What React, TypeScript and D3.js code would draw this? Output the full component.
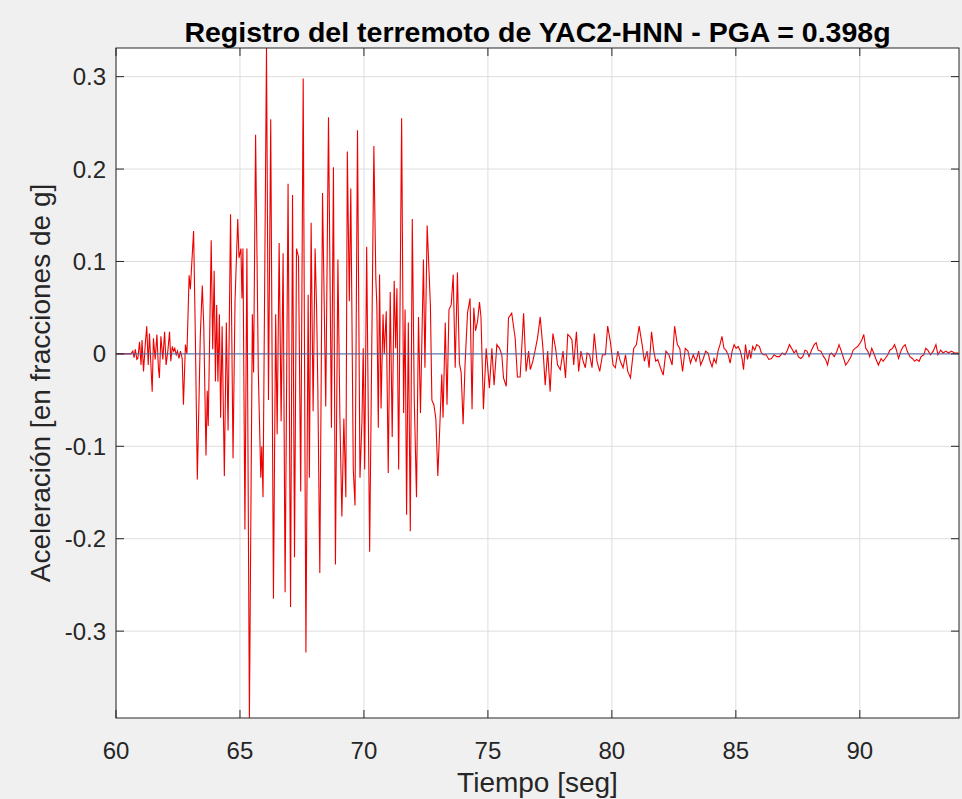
import * as d3 from 'd3';

// Registro del terremoto YAC2-HNN, puntos [tiempo (s), aceleración (g)]
const preEvento: [number, number][] = [
  [60.0, 0], [60.6, 0], [60.68, 0.003], [60.73, -0.004], [60.78, 0.005], [60.84, -0.006],
  [60.88, -0.005], [60.95, 0.013], [61.01, -0.012], [61.05, 0.015], [61.11, -0.019],
  [61.18, 0.01], [61.24, 0.03], [61.3, -0.012], [61.35, 0.022], [61.42, -0.019],
  [61.46, -0.041], [61.51, 0.017], [61.58, -0.006], [61.65, 0.021], [61.71, -0.015],
  [61.75, -0.026], [61.81, 0.019], [61.89, -0.006], [61.96, 0.024], [62.02, -0.012],
  [62.09, 0.003], [62.16, 0.024], [62.21, -0.008], [62.27, 0.008], [62.32, 0.003],
  [62.37, 0.006], [62.43, -0.001], [62.48, 0.003], [62.54, -0.005], [62.6, 0.003],
  [62.67, -0.005], [62.72, -0.055],
];

const faseIntensa: [number, number][] = [
  [62.8, 0.01], [62.86, 0.0], [62.95, 0.085], [63.0, 0.07], [63.05, 0.095], [63.13, 0.133],
  [63.2, 0.02], [63.28, -0.136], [63.34, -0.06], [63.4, 0.02], [63.48, 0.074], [63.54, 0.03],
  [63.63, -0.11], [63.68, -0.04], [63.72, -0.078], [63.84, 0.123], [63.9, 0.005], [63.96, 0.09],
  [64.01, -0.03], [64.06, 0.053], [64.11, -0.03], [64.17, 0.043], [64.22, -0.069], [64.28, 0.03],
  [64.37, -0.132], [64.45, 0.034], [64.52, -0.083], [64.62, 0.151], [64.72, -0.113], [64.8, 0.057],
  [64.91, 0.146], [64.96, 0.104], [65.04, 0.114], [65.08, 0.06], [65.12, 0.114], [65.2, -0.19],
  [65.28, 0.114], [65.38, -0.394], [65.5, 0.043], [65.55, -0.02], [65.63, 0.237], [65.74, -0.02],
  [65.84, -0.134], [65.88, -0.1], [65.93, -0.155], [66.07, 0.331], [66.15, -0.05], [66.24, 0.254],
  [66.35, -0.265], [66.44, 0.043], [66.5, -0.087], [66.58, 0.12], [66.66, -0.073], [66.74, 0.109],
  [66.82, -0.258], [66.94, 0.184], [67.04, -0.274], [67.12, 0.172], [67.2, -0.22], [67.28, 0.114],
  [67.36, 0.105], [67.45, -0.149], [67.55, 0.298], [67.66, -0.323], [67.75, 0.064], [67.8, -0.134],
  [67.87, 0.142], [67.95, -0.062], [68.03, 0.114], [68.09, 0.05], [68.14, -0.036], [68.22, -0.237],
  [68.33, 0.174], [68.46, -0.057], [68.57, 0.256], [68.69, -0.08], [68.77, 0.202], [68.85, -0.228],
  [68.95, 0.102], [69.03, -0.07], [69.11, -0.176], [69.19, -0.07], [69.27, -0.155], [69.33, 0.219],
  [69.41, 0.057], [69.47, 0.179], [69.57, -0.125], [69.64, -0.164], [69.74, 0.242], [69.84, -0.134],
  [69.92, -0.073], [69.97, 0.006], [70.03, -0.125], [70.11, 0.116], [70.23, -0.214], [70.4, 0.225],
  [70.48, 0.081], [70.52, 0.053], [70.58, -0.08], [70.63, 0.086], [70.69, -0.059], [70.77, 0.043],
  [70.82, 0.0], [70.9, 0.046], [70.98, -0.129], [71.06, 0.067], [71.14, -0.09], [71.22, 0.079],
  [71.28, 0.006], [71.33, 0.071], [71.4, -0.125], [71.52, 0.255], [71.6, -0.064], [71.66, 0.048],
  [71.72, -0.174], [71.79, 0.034], [71.87, -0.192], [71.95, 0.146], [72.03, -0.05], [72.12, -0.155],
  [72.2, 0.04], [72.28, -0.064], [72.4, 0.102], [72.46, -0.015], [72.55, 0.139], [72.63, 0.086],
  [72.68, 0.053], [72.74, -0.05], [72.82, -0.055], [72.9, -0.07], [72.98, -0.132], [73.06, -0.078],
  [73.14, -0.022], [73.19, -0.069], [73.28, 0.034], [73.35, -0.055], [73.43, 0.048], [73.52, 0.053],
  [73.6, 0.086], [73.68, -0.015], [73.77, 0.088], [73.85, -0.01], [73.92, -0.02], [74.0, -0.076],
  [74.08, -0.01], [74.18, 0.045],
];

const codaTemprana: [number, number][] = [
  [74.28, 0.06], [74.36, -0.06], [74.43, 0.05], [74.5, 0.025], [74.58, 0.035], [74.66, 0.056],
  [74.72, 0.04], [74.82, -0.06], [74.93, 0.006], [75.06, -0.037], [75.16, 0.006], [75.25, -0.034],
  [75.36, 0.01], [75.47, 0.006], [75.56, -0.001], [75.63, -0.026], [75.74, -0.035], [75.83, 0.039],
  [75.96, 0.044], [76.1, 0.017], [76.19, -0.025], [76.3, -0.025], [76.44, 0.044], [76.54, -0.019],
  [76.64, 0.003], [76.71, -0.017], [76.81, -0.008], [76.92, 0.006], [77.0, 0.017], [77.11, 0.04],
  [77.22, 0.006], [77.31, -0.034], [77.41, 0.003], [77.51, -0.041], [77.62, 0.022], [77.73, 0.006],
  [77.81, -0.012], [77.92, -0.017], [78.03, 0.003], [78.13, -0.026], [78.22, 0.021], [78.3, 0.019],
  [78.39, 0.015], [78.46, -0.012], [78.57, 0.024], [78.66, -0.019], [78.75, 0.003], [78.84, -0.008],
  [78.93, -0.015], [79.0, 0.001], [79.1, -0.001], [79.2, -0.015], [79.29, 0.022], [79.4, -0.008],
  [79.51, -0.019], [79.62, -0.001], [79.74, -0.001], [79.83, 0.03], [79.94, 0.013], [80.05, -0.012],
  [80.14, -0.015], [80.24, 0.003], [80.34, -0.008], [80.45, -0.015], [80.55, -0.001], [80.64, -0.019],
  [80.75, -0.026], [80.88, 0.006], [80.99, 0.01], [81.1, 0.03], [81.22, 0.01], [81.31, -0.008],
  [81.42, 0.003], [81.5, -0.015], [81.6, 0.024], [81.69, 0.003], [81.77, -0.008], [81.85, -0.006],
  [81.96, -0.015], [82.07, -0.023], [82.18, 0.003], [82.3, -0.001], [82.43, -0.012], [82.53, 0.03],
  [82.64, 0.01], [82.74, 0.006], [82.85, -0.019], [82.96, 0.006], [83.07, 0.003], [83.17, -0.01],
  [83.28, -0.001], [83.39, -0.008], [83.5, 0.003],
];

const codaTardia: [number, number][] = [
  [83.58, -0.012], [83.69, -0.005], [83.78, 0.003], [83.88, 0.001], [83.96, -0.008], [84.04, -0.014],
  [84.12, -0.005], [84.2, -0.01], [84.28, 0.003], [84.36, 0.01], [84.44, 0.019], [84.52, 0.006],
  [84.6, 0.004], [84.69, -0.001], [84.77, -0.01], [84.85, 0.003], [84.93, 0.01], [85.01, 0.006],
  [85.09, 0.008], [85.17, 0.004], [85.25, -0.005], [85.31, -0.017], [85.39, 0.01], [85.47, -0.006],
  [85.55, 0.004], [85.6, -0.005], [85.68, 0.008], [85.76, 0.004], [85.84, 0.01], [85.95, 0.008],
  [86.03, 0.001], [86.11, -0.001], [86.22, -0.001], [86.33, -0.006], [86.44, -0.005], [86.54, -0.001],
  [86.65, -0.003], [86.76, -0.003], [86.87, 0.001], [86.98, -0.001], [87.08, 0.004], [87.16, 0.01],
  [87.25, 0.006], [87.35, 0.001], [87.43, 0.004], [87.52, -0.003], [87.62, -0.005], [87.7, -0.003],
  [87.79, 0.004], [87.87, 0.003], [87.95, -0.003], [88.05, 0.004], [88.16, 0.01], [88.24, 0.012],
  [88.32, 0.004], [88.43, 0.003], [88.54, -0.003], [88.62, -0.006], [88.7, -0.012], [88.78, -0.001],
  [88.86, 0.001], [88.97, -0.003], [89.08, 0.003], [89.16, 0.01], [89.24, 0.004], [89.35, -0.005],
  [89.43, -0.012], [89.54, -0.008], [89.64, -0.003], [89.73, 0.004], [89.81, 0.006], [89.91, 0.008],
  [90.02, 0.012], [90.08, 0.015], [90.16, 0.021], [90.24, 0.006], [90.32, 0.003], [90.4, -0.003],
  [90.48, 0.006], [90.56, 0.001], [90.64, -0.005], [90.75, -0.012], [90.86, -0.005], [90.94, -0.008],
  [91.02, -0.005], [91.13, -0.001], [91.21, 0.004], [91.32, 0.006], [91.4, 0.01], [91.48, 0.004],
  [91.56, -0.005], [91.67, 0.004], [91.75, 0.008], [91.83, 0.01], [91.91, 0.003], [92.02, -0.003],
  [92.12, -0.005], [92.21, -0.008], [92.29, -0.006], [92.39, -0.008], [92.47, -0.003], [92.58, -0.001],
  [92.66, 0.006], [92.74, 0.004], [92.85, -0.001], [92.96, 0.003], [93.07, 0.01], [93.15, -0.001],
  [93.26, 0.004], [93.36, 0.001], [93.47, 0.003], [93.58, 0.001], [93.69, 0.003], [93.82, 0.001],
  [93.96, 0.001], [94.0, 0.0],
];

const xTicks = [60, 65, 70, 75, 80, 85, 90];
const yTicks = [-0.3, -0.2, -0.1, 0, 0.1, 0.2, 0.3];
const xDomain: [number, number] = [60, 94];
const yDomain: [number, number] = [-0.394, 0.331];

const titulo = 'Registro del terremoto de YAC2-HNN - PGA = 0.398g';
const etiquetaX = 'Tiempo [seg]';
const etiquetaY = 'Aceleración [en fracciones de g]';

const W = 962;
const H = 799;
const left = 116;
const right = 959;
const top = 48;
const bottom = 718;
const font = 'Helvetica, Arial, "Liberation Sans", sans-serif';
const axisColor = '#262626';
const tickLen = 8;

// MATLAB usa guion simple en las etiquetas negativas
const fmtY = (v: number) => (v === 0 ? '0' : d3.format('.1f')(v).replace('\u2212', '-'));

export default function App() {
  const x = d3.scaleLinear().domain(xDomain).range([left, right]);
  const y = d3.scaleLinear().domain(yDomain).range([bottom, top]);

  const registro = [...preEvento, ...faseIntensa, ...codaTemprana, ...codaTardia];
  const linea = d3
    .line<[number, number]>()
    .x((d) => x(d[0]))
    .y((d) => y(d[1]));

  return (
    <div style={{ position: 'fixed', left: 0, top: 0 }}>
      <svg width={W} height={H} style={{ display: 'block', background: '#f0f0f0' }}>
        <defs>
          <clipPath id='area'>
            <rect x={left} y={top} width={right - left} height={bottom - top} />
          </clipPath>
        </defs>
        <rect x={left} y={top} width={right - left} height={bottom - top} fill='#fff' />

        {/* rejilla */}
        {xTicks.map((t) => (
          <line key={'gx' + t} x1={x(t)} x2={x(t)} y1={top} y2={bottom} stroke='#dedede' />
        ))}
        {yTicks.map((t) => (
          <line key={'gy' + t} x1={left} x2={right} y1={y(t)} y2={y(t)} stroke='#dedede' />
        ))}

        <g clipPath='url(#area)'>
          <path d={linea(registro) ?? ''} fill='none' stroke='#ee0000' strokeWidth={1.1} />
          <line x1={x(xDomain[0])} x2={x(xDomain[1])} y1={y(0)} y2={y(0)} stroke='#4565a8' strokeWidth={1} />
        </g>

        {/* marcas y caja */}
        {xTicks.map((t) => (
          <g key={'tx' + t} stroke={axisColor}>
            <line x1={x(t)} x2={x(t)} y1={bottom} y2={bottom - tickLen} />
            <line x1={x(t)} x2={x(t)} y1={top} y2={top + tickLen} />
          </g>
        ))}
        {yTicks.map((t) => (
          <g key={'ty' + t} stroke={axisColor}>
            <line x1={left} x2={left + tickLen} y1={y(t)} y2={y(t)} />
            <line x1={right} x2={right - tickLen} y1={y(t)} y2={y(t)} />
          </g>
        ))}
        <rect x={left} y={top} width={right - left} height={bottom - top} fill='none' stroke={axisColor} />

        {xTicks.map((t) => (
          <text key={'lx' + t} x={x(t)} y={759} textAnchor='middle' fontFamily={font} fontSize={24} fill={axisColor}>
            {d3.format('d')(t)}
          </text>
        ))}
        {yTicks.map((t) => (
          <text key={'ly' + t} x={left - 10} y={y(t) + 8.5} textAnchor='end' fontFamily={font} fontSize={24} fill={axisColor}>
            {fmtY(t)}
          </text>
        ))}

        <text x={(left + right) / 2} y={42} textAnchor='middle' fontFamily={font} fontSize={28.5} fontWeight='bold' fill='#000'>
          {titulo}
        </text>
        <text x={(left + right) / 2} y={792} textAnchor='middle' fontFamily={font} fontSize={28} fill={axisColor}>
          {etiquetaX}
        </text>
        <text
          transform={`translate(50, ${(top + bottom) / 2}) rotate(-90)`}
          textAnchor='middle'
          fontFamily={font}
          fontSize={28}
          fill={axisColor}
        >
          {etiquetaY}
        </text>
      </svg>
    </div>
  );
}
